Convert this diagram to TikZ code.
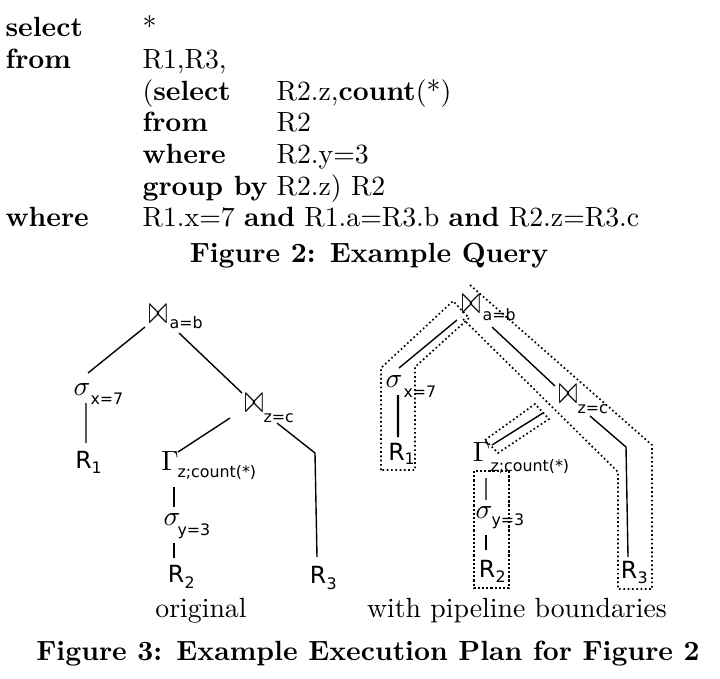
\documentclass[tikz,border=0pt]{standalone}
\usepackage[no-math]{fontspec}
\usepackage{graphicx}
\newfontfamily\dv{DejaVu Sans}
\newcommand\joinsym{\resizebox*{6.8pt}{6.6pt}{$\bowtie$}}
\tikzset{
  qtext/.style={anchor=base west, inner sep=0pt, font=\fontsize{10}{12}\selectfont},
  capt/.style={anchor=base, inner sep=0pt, font=\fontsize{10}{12}\selectfont\bfseries},
  plabel/.style={anchor=base, inner sep=0pt, font=\fontsize{10}{12}\selectfont},
  joinop/.style={anchor=base, inner sep=0pt},
  mathop/.style={anchor=base, inner sep=0pt, font=\fontsize{10}{11}\selectfont},
  relR/.style={anchor=base, inner sep=0pt, font=\dv\fontsize{8.5}{9}\selectfont},
  subl/.style={anchor=base west, inner sep=0pt, font=\dv\fontsize{5.7}{6}\selectfont},
  edge/.style={line width=0.5pt},
  pipe/.style={line width=0.6pt, dash pattern=on 0.6pt off 0.95pt},
  pipebold/.style={line width=0.8pt, dash pattern=on 0.8pt off 0.7pt},
}
\begin{document}
\begin{tikzpicture}[x=0.36pt,y=-0.36pt]
\useasboundingbox (0,0) rectangle (720,678);
% ---------- Query ----------
\node[qtext] (kw1) at (5,36) {\textbf{select}};
\node[qtext] (v1) at (142,36) {*};
\node[qtext] (kw2) at (5,68) {\textbf{from}};
\node[qtext] (v2) at (142,68) {R1,R3,};
\node[qtext] (kw3) at (142,100) {(\textbf{select}};
\node[qtext] (v3) at (276,100) {R2.z,\textbf{count}(*)};
\node[qtext] (kw4) at (142,131) {\textbf{from}};
\node[qtext] (v4) at (276,131) {R2};
\node[qtext] (kw5) at (142,163) {\textbf{where}};
\node[qtext] (v5) at (276,163) {R2.y=3};
\node[qtext] (kw6) at (142,195) {\textbf{group by}};
\node[qtext] (v6) at (276,195) {R2.z) R2};
\node[qtext] (kw7) at (5,226) {\textbf{where}};
\node[qtext] (v7) at (142,226) {R1.x=7 \textbf{and} R1.a=R3.b \textbf{and} R2.z=R3.c};
\node[capt] (fig2) at (369,262) {Figure 2: Example Query};
% ---------- Left tree ----------
\node[joinop] (aj1) at (158,323) {\joinsym};
\node[subl] (aj1s) at (169,328) {a=b};
\node[mathop] (as1) at (82,395) {$\sigma$};
\node[subl] (as1s) at (90,404) {x=7};
\node[relR] (ar1) at (83.5,468) {R};
\node[subl] (ar1s) at (91,473) {1};
\node[joinop] (aj2) at (254,412) {\joinsym};
\node[subl] (aj2s) at (263,422) {z=c};
\node[mathop] (ag) at (170,470) {$\Gamma$};
\node[subl] (ags) at (177,477) {z;count(*)};
\node[mathop] (as2) at (172,525) {$\sigma$};
\node[subl] (as2s) at (177,535) {y=3};
\node[relR] (ar2) at (176,582) {R};
\node[subl] (ar2s) at (184,588) {2};
\node[relR] (ar3) at (318,583) {R};
\node[subl] (ar3s) at (326,589) {3};
\draw[edge] ([shift={(-13,4)}]aj1.base) -- ([shift={(6,-22)}]as1.base);
\draw[edge] ([shift={(21,10)}]aj1.base) -- ([shift={(-12,-19)}]aj2.base);
\draw[edge] ([shift={(4,8)}]as1.base) -- ([shift={(2.5,-25)}]ar1.base);
\draw[edge] ([shift={(-24,6)}]aj2.base) -- ([shift={(8,-18)}]ag.base);
\draw[edge] ([shift={(23,11)}]aj2.base) -- ([shift={(-3,-130)}]ar3.base) -- ([shift={(-1,-26)}]ar3.base);
\draw[edge] ([shift={(4,17)}]ag.base) -- ([shift={(2,-18)}]as2.base);
\draw[edge] ([shift={(2,18)}]as2.base) -- ([shift={(-2,-24)}]ar2.base);
\node[plabel] (orig) at (201,617) {original};
% ---------- Right tree ----------
\node[joinop] (bj1) at (471,313) {\joinsym};
\node[subl] (bj1s) at (482,320) {a=b};
\node[mathop] (bs1) at (394,387) {$\sigma$};
\node[subl] (bs1s) at (403,397) {x=7};
\node[relR] (br1) at (396.5,460) {R};
\node[subl] (br1s) at (404,464) {1};
\node[joinop] (bj2) at (568,403) {\joinsym};
\node[subl] (bj2s) at (577,413) {z=c};
\node[mathop] (bg) at (481.5,461) {$\Gamma$};
\node[subl] (bgs) at (490,471) {z;count(*)};
\node[mathop] (bs2) at (484,518) {$\sigma$};
\node[subl] (bs2s) at (491,525) {y=3};
\node[relR] (br2) at (487,577) {R};
\node[subl] (br2s) at (495,582) {2};
\node[relR] (br3) at (629,578) {R};
\node[subl] (br3s) at (637,583) {3};
\draw[edge] ([shift={(-14,7)}]bj1.base) -- ([shift={(5,-19)}]bs1.base);
\draw[edge] ([shift={(21,14)}]bj1.base) -- ([shift={(-13,-17)}]bj2.base);
\draw[edge, line width=0.75pt] ([shift={(4,8)}]bs1.base) -- ([shift={(1.5,-23)}]br1.base);
\draw[edge] ([shift={(-25,10)}]bj2.base) -- ([shift={(10.5,-16)}]bg.base);
\draw[edge] ([shift={(22,13)}]bj2.base) -- ([shift={(-3,-131)}]br3.base) -- ([shift={(-1,-21)}]br3.base);
\draw[edge] ([shift={(4.5,17)}]bg.base) -- ([shift={(2,-18)}]bs2.base);
\draw[edge] ([shift={(2,17)}]bs2.base) -- ([shift={(-1,-27)}]br2.base);
% pipeline boundaries
\draw[pipe] (381,470) -- (381,368) -- (453,301) -- (469,318) -- (415,367) -- (415,470) -- cycle;
\draw[pipe] (470,285) -- (652,445) -- (652,589) -- (618,589) -- (618,472) -- (461,317);
\draw[pipe] (485,440) -- (535,404) -- (549,419) -- (498,453) -- cycle;
\draw[pipebold] (474,471) rectangle (509,588);
\node[plabel] (pipel) at (517,617) {with pipeline boundaries};
% ---------- Figure 3 caption ----------
\node[capt] (fig3) at (368,660) {Figure 3: Example Execution Plan for Figure 2};
\end{tikzpicture}
\end{document}
